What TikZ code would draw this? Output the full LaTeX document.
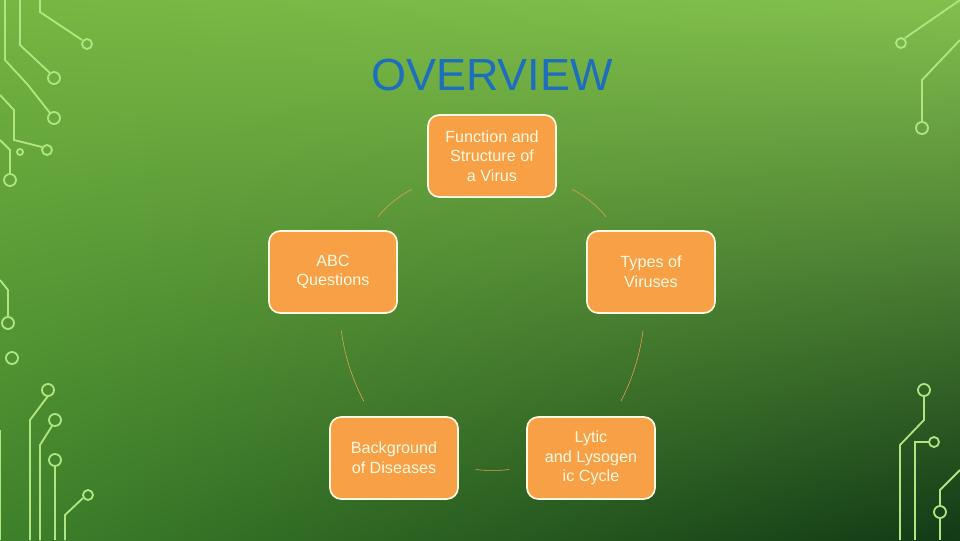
\documentclass[tikz,border=0pt]{standalone}
\usepackage{fontspec}
\setmainfont{Liberation Sans}
\usetikzlibrary{shadings}
\definecolor{bgtl}{RGB}{118,182,66}
\definecolor{bgtr}{RGB}{130,192,78}
\definecolor{bgbl}{RGB}{62,128,42}
\definecolor{bgbr}{RGB}{18,58,22}
\definecolor{boxfill}{RGB}{248,160,70}
\definecolor{boxtext}{RGB}{255,250,225}
\definecolor{arcline}{RGB}{235,160,80}
\definecolor{wire}{RGB}{175,230,130}
\definecolor{titleblue}{RGB}{30,110,190}
\tikzset{
  topic/.style={draw=boxtext, line width=1.2pt, fill=boxfill, rounded corners=8pt,
    minimum width=3.2cm, minimum height=2.05cm, align=center, text=boxtext,
    font=\fontsize{11.5}{14}\selectfont},
  link/.style={draw=arcline, thin, shorten >=12pt, shorten <=12pt},
  wireline/.style={draw=wire, line width=1.3pt},
  pad/.style={draw=wire, line width=1.3pt}
}
\begin{document}
\begin{tikzpicture}[x=0.025cm,y=-0.025cm]
\useasboundingbox (0,0) rectangle (960,540);
\shade[upper left=bgtl, upper right=bgtr, lower left=bgbl, lower right=bgbr] (0,0) rectangle (960,540);
% circuit wires
\draw[wireline] (40,0) -- (40,12) -- (82,40);
\draw[pad] (87,44) circle (5);
\draw[wireline] (20,0) -- (20,45) -- (50,73);
\draw[pad] (54,78) circle (6);
\draw[wireline] (5,0) -- (5,60) -- (28,85) -- (50,113);
\draw[pad] (54,118) circle (6);
\draw[wireline] (0,95) -- (14,110) -- (14,140) -- (42,147);
\draw[pad] (47,150) circle (5);
\draw[wireline] (0,140) -- (10,150) -- (10,173);
\draw[pad] (10,180) circle (6);
\draw[pad] (20,152) circle (3);
\draw[wireline] (960,0) -- (905,38);
\draw[pad] (901,43) circle (5);
\draw[wireline] (960,40) -- (922,80) -- (922,122);
\draw[pad] (922,128) circle (6);
\draw[wireline] (0,280) -- (8,290) -- (8,317);
\draw[pad] (8,323) circle (6);
\draw[pad] (12,358) circle (6);
\draw[wireline] (0,430) -- (0,540);
\draw[wireline] (48,396) -- (30,420) -- (30,540);
\draw[pad] (48,390) circle (6);
\draw[wireline] (52,426) -- (40,445) -- (40,540);
\draw[pad] (55,420) circle (6);
\draw[wireline] (55,466) -- (55,540);
\draw[pad] (55,460) circle (6);
\draw[wireline] (83,498) -- (65,515) -- (65,540);
\draw[pad] (88,495) circle (5);
\draw[wireline] (924,396) -- (924,420) -- (900,445) -- (900,540);
\draw[pad] (924,390) circle (6);
\draw[wireline] (929,442) -- (915,442) -- (915,540);
\draw[pad] (934,442) circle (5);
\draw[wireline] (940,506) -- (940,490) -- (960,470);
\draw[pad] (940,512) circle (6);
\draw[wireline] (940,518) -- (940,540);
% title
\node (title) at (492,75) {\textcolor{titleblue}{\fontsize{32}{36}\selectfont OVERVIEW}};
% topics
\node[topic] (virus) at (492,156) {Function and\\Structure of\\a Virus};
\node[topic] (types) at (651,272) {Types of\\Viruses};
\node[topic] (lytic) at (591,458) {Lytic\\and Lysogen\\ic Cycle};
\node[topic] (disease) at (394,458) {Background\\of Diseases};
\node[topic] (abc) at (333,272) {ABC\\Questions};
\draw[link] (virus) to[bend left=14] (types);
\draw[link] (types) to[bend left=10] (lytic);
\draw[link] (lytic) to[bend left=8] (disease);
\draw[link] (disease) to[bend left=10] (abc);
\draw[link] (abc) to[bend left=14] (virus);
\end{tikzpicture}
\end{document}
